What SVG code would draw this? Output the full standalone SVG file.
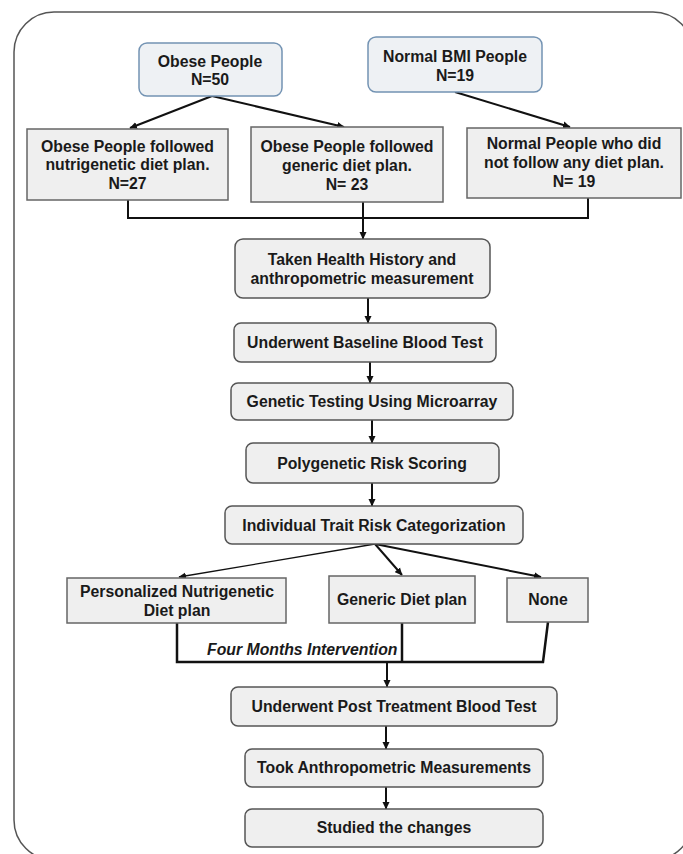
<svg xmlns="http://www.w3.org/2000/svg" width="683" height="854" viewBox="0 0 683 854">
<style>
  text { font-family: "Liberation Sans", Arial, sans-serif; font-weight: bold; font-size: 15.8px; fill: #1a1a1a; text-anchor: middle; }
  .top { fill: #eef1f4; stroke: #7393b3; stroke-width: 1.5; }
  .sq { fill: #efefef; stroke: #666; stroke-width: 1.5; }
  .proc { fill: #efefef; stroke: #555; stroke-width: 1.5; }
  .ln { fill: none; stroke: #111; stroke-width: 2; }
  .thin { fill: none; stroke: #111; stroke-width: 1.3; }
  .thick { fill: none; stroke: #111; stroke-width: 2.5; }
  .it { font-style: italic; text-anchor: start; }
</style>
<defs>
  <marker id="ah" markerUnits="userSpaceOnUse" markerWidth="8" markerHeight="8" refX="7" refY="4" orient="auto">
    <path d="M0,0.5 L7.5,4 L0,7.5 z" fill="#111"/>
  </marker>
</defs>
<rect x="0" y="0" width="683" height="854" fill="#fff"/>
<rect id="frame" x="14" y="12" width="679" height="848" rx="40" ry="40" fill="none" stroke="#555" stroke-width="1.5"/>

<g id="connectors">
  <path class="ln" d="M212,96 L130,128" marker-end="url(#ah)"/>
  <path class="ln" d="M212,96 L344,127" marker-end="url(#ah)"/>
  <path class="ln" d="M455,92 L570,127" marker-end="url(#ah)"/>
  <path class="ln" d="M128,200 V218 H588 V198"/>
  <path class="ln" d="M363,202 V239" marker-end="url(#ah)"/>
  <path class="ln" d="M368,298 V323" marker-end="url(#ah)"/>
  <path class="ln" d="M370,362 V383" marker-end="url(#ah)"/>
  <path class="ln" d="M372,420 V443" marker-end="url(#ah)"/>
  <path class="ln" d="M372,483 V506" marker-end="url(#ah)"/>
  <path class="thin" d="M375,544 L179,577" marker-end="url(#ah)"/>
  <path class="ln" d="M375,544 L402,575" marker-end="url(#ah)"/>
  <path class="ln" d="M375,544 L541,577" marker-end="url(#ah)"/>
  <path class="thick" d="M177,623 V662 H543 L548,622"/>
  <path class="thick" d="M402,623 V662"/>
  <path class="ln" d="M387,662 V687" marker-end="url(#ah)"/>
  <path class="ln" d="M386,726 V749" marker-end="url(#ah)"/>
  <path class="ln" d="M386,787 V809" marker-end="url(#ah)"/>
</g>

<g id="obese">
  <rect class="top" x="139" y="43" width="143" height="53" rx="8"/>
  <text x="210" y="67">Obese People</text>
  <text x="210" y="85">N=50</text>
</g>
<g id="normal-bmi">
  <rect class="top" x="368" y="37" width="174" height="55" rx="8"/>
  <text x="455" y="62">Normal BMI People</text>
  <text x="455" y="81">N=19</text>
</g>
<g id="obese-nutri">
  <rect class="sq" x="27" y="129" width="201" height="71"/>
  <text x="127.5" y="152">Obese People followed</text>
  <text x="127.5" y="170">nutrigenetic diet plan.</text>
  <text x="127.5" y="189">N=27</text>
</g>
<g id="obese-generic">
  <rect class="sq" x="251" y="127" width="192" height="75"/>
  <text x="347" y="152">Obese People followed</text>
  <text x="347" y="171">generic diet plan.</text>
  <text x="347" y="190">N= 23</text>
</g>
<g id="normal-none">
  <rect class="sq" x="467" y="128" width="214" height="70"/>
  <text x="574" y="149">Normal People who did</text>
  <text x="574" y="168">not follow any diet plan.</text>
  <text x="574" y="187">N= 19</text>
</g>
<g id="history">
  <rect class="proc" x="235" y="239" width="255" height="59" rx="8"/>
  <text x="362" y="265">Taken Health History and</text>
  <text x="362" y="284">anthropometric measurement</text>
</g>
<g id="baseline">
  <rect class="proc" x="234" y="323" width="262" height="39" rx="7"/>
  <text x="365" y="348">Underwent Baseline Blood Test</text>
</g>
<g id="genetic">
  <rect class="proc" x="231" y="383" width="282" height="37" rx="7"/>
  <text x="372" y="407">Genetic Testing Using Microarray</text>
</g>
<g id="prs">
  <rect class="proc" x="246" y="443" width="253" height="40" rx="7"/>
  <text x="372" y="469">Polygenetic Risk Scoring</text>
</g>
<g id="trait">
  <rect class="proc" x="225" y="506" width="298" height="38" rx="7"/>
  <text x="374" y="531">Individual Trait Risk Categorization</text>
</g>
<g id="personalized">
  <rect class="sq" x="67" y="578" width="219" height="45"/>
  <text x="177" y="597">Personalized Nutrigenetic</text>
  <text x="177" y="616">Diet plan</text>
</g>
<g id="generic">
  <rect class="sq" x="329" y="576" width="146" height="47"/>
  <text x="402" y="605">Generic Diet plan</text>
</g>
<g id="none">
  <rect class="sq" x="507" y="578" width="81" height="44"/>
  <text x="548" y="605">None</text>
</g>
<text class="it" x="207" y="655">Four Months Intervention</text>
<g id="post">
  <rect class="proc" x="231" y="687" width="326" height="39" rx="7"/>
  <text x="394" y="712">Underwent Post Treatment Blood Test</text>
</g>
<g id="anthro">
  <rect class="proc" x="245" y="749" width="298" height="38" rx="7"/>
  <text x="394" y="773">Took Anthropometric Measurements</text>
</g>
<g id="studied">
  <rect class="proc" x="245" y="809" width="298" height="38" rx="7"/>
  <text x="394" y="833">Studied the changes</text>
</g>
</svg>
